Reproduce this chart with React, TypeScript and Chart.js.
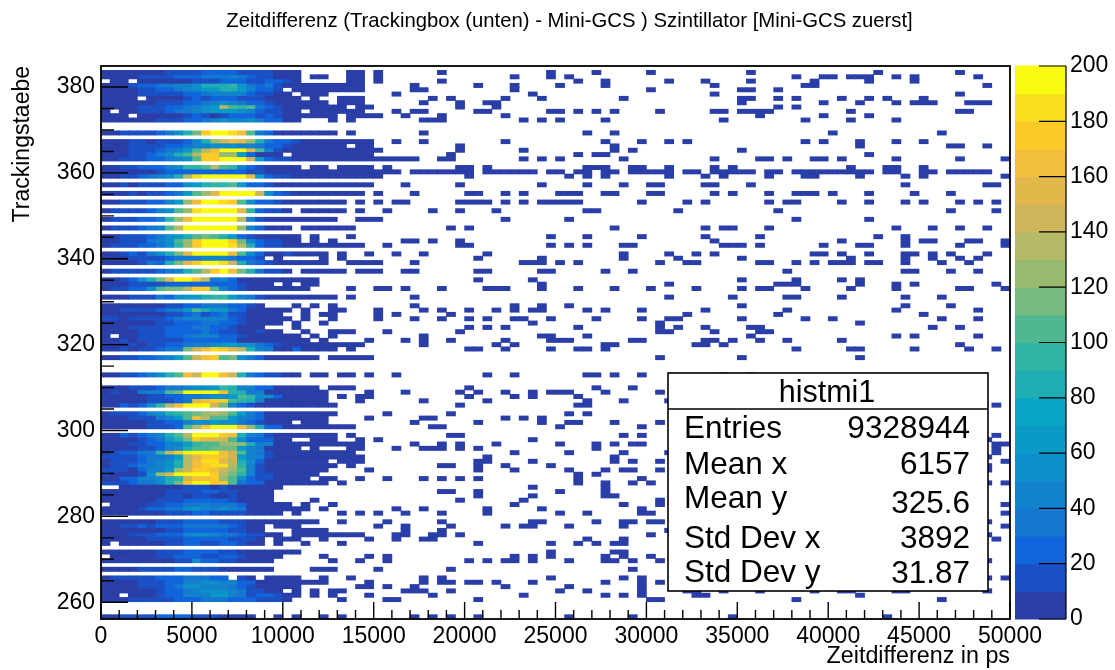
import React, { useEffect, useRef } from "react";
import { Chart, registerables } from "chart.js";

Chart.register(...registerables);

const titleText = "Zeitdifferenz (Trackingbox (unten) - Mini-GCS ) Szintillator [Mini-GCS zuerst]";
const xTitle = "Zeitdifferenz in ps";
const yTitle = "Trackingstaebe";
const xTicks = [0, 5000, 10000, 15000, 20000, 25000, 30000, 35000, 40000, 45000, 50000];
const yTicks = [260, 280, 300, 320, 340, 360, 380];
const zTicks = [0, 20, 40, 60, 80, 100, 120, 140, 160, 180, 200];
const statLabels = ["Entries", "Mean x", "Mean y", "Std Dev x", "Std Dev y"];
const statValues = ["9328944", "6157", "325.6", "3892", "31.87"];

const palette = ["#2a3ea8", "#1a50c4", "#1065dc", "#1478d0", "#1282cc", "#0f8ecc", "#0a9ac8", "#0aa5c4", "#20aeb2", "#30b5a5",
  "#50b890", "#75ba80", "#98bb70", "#b5ba68", "#cfb55a", "#e2b84a", "#f3bf3a", "#fdca28", "#f9de1c", "#f9fa10"];
const levelChars = "1234567x89abcdefghij";

const X_BIN = 500;
const Y_MIN = 256.1;
const Y_MAX = 384.9;
const ROWS = 128;

// one string per row from the top; each character is the colour band of a 500 ps bin
const leftCells = [
"", "1111111222233332222111.....11.1", "1111222233344454322111.11..11.1", ".11.111111222333223321.....11.1",
"11123344556888974342111111111", "11112233456778875332.11111111", "111122222334555532211.111.......1", "1111.11112323332221111.1..111",
"1111112223345654332111111.111", "1111222334567da9a4321111111.11", "1.1122234456777653221" + "1.111111", "111.11111232123332321" + "11111.1111",
"1111112223345655643311...1.1", "", "", "1122223468bhjjiga4311" + "11111.1", "",
"111221222358cegfc843321" + "1111111..1", "111222233455666554332111111.11", "1112223457adgjjjfa521" + "1111111111", "111223568adhhcc73111.111111111",
"1122233456ahhjjje7322" + "111111111111", "", "11223335699ada95321111.11.1111.1", "111111233333333322" + "111111111111111",
"112234568dijjjjjg7322" + "1111111111", "", "11212223367899a73321" + "1111111111", "", "1112122347acfjjjje632" + "11111111.1", "",
"112223357cgjjiha6332" + "1111111.1.1.1", "", "12222356acijjjjf93221.11111.1..1", "", "12223349cgjjjjjd521" + "1111111..111", "",
"1222345adjjjjjjc53111.111111", "", "1122234678aba873211111.1...1", "11222456achjjjhb532211.1.1", "122233469chjjjid8322" + "111111111..1", "",
"11232468bfjjjjga63112" + "1111.1..1..1", "111222234445554332.1....1.1", "11112438bfhjjie8432" + "111111..1111", "",
"1222223458adhjgb84221.11111.111", "", "112368bfjjhd453" + "111111111", "111222233333333" + "2111.1.11", "122336abbdhha532" + "1111111....1..11", "",
"111222436778997542" + "11111111.1", "", "1111111223344433" + "21...1.1.1", "1122223457a87743" + "11111.1..11...1", "1111111223423422" + "1111..1.11....1.1",
"2212222345555532" + "11111.1..1....1", "1111112233344332" + "1111.1..1", "111222233344332111...1", "11112223333432211211..1..111...1",
"1.11222334555332" + "111111.1.1", "112122222333333" + "11111111.1....1", "11121223345567766432" + "111111111", "112122344begihfd854" + "1131111.1", "",
"112233457aeghab643" + "111111.11111", "", "", "", "11223468agejjge84322" + "11.11.11.1..1", "", "", "1112223445667985533" + "11111.111",
"1211455abjjjjg9845" + "1111111....1", "11111223344566" + "7a9663" + "11111.1.11", "1111122234fghha985" + "1111111...1", "1132369dgjjjeb532" + "111111111", "",
"122235689abcdca743" + "11111111.....1", "111222457agdaa7543" + "1111111....1", "111112233566766432" + "111.111", "111112223adhjjjgc833" + "11111111", "",
"11323458adjjjhg8542" + "1111111.1", "111123478bhffea6333" + "11..111..1.1", "11122335579aaccc855" + "1111111111", "1111223568aabbb754" + "1111.1...11...1",
"1233449ehjjjjgea542" + "111111111", "222234457dfhhge7552" + "1111111111", "122234568dgiifd863" + "1111111.111", "122344568dghiid952" + "11111111.1",
"22213557cehhgeca52" + "1111111....1", "211126cfjjjjhdb9522" + "11111", "113355689egghca6322" + "1111.11..1..1", "22234468bhjjhha433" + "1111111.1",
"..1111111222" + "12111111", "1111111222233221111", "1111111221221121111", "11111122233333" + "21111....1", ".111122334454443" + "11111.1..1",
"1111233446755654" + "1111111.1.......1", "1111111222332222" + "1111.1....1.1.1", "", "1111112223333222" + "11111111..1....1",
"112232333444443211.111........1", "111111122333332211...1111", "11122233356654432211.11111111", "111112222333332221.111..1....1", "1.1111122332233211.1..1...1", "",
"111111222333322" + "1111111", ".1111122333223321111....1....1.1", "111111112263322" + "1111......1..1..1", "", "1111222233222" + "111111....111....1", "",
"12222233344433.21.1111..1..1", "11112223355665533" + "11111111....1", "11112223466555432" + "11111......11.1", "11111123345666542211.1.1.11",
"11.1112335557754233211.1.1...1", "111222223334443332221.....1....1", "", "", "", "11222233332221111..1.1..1.1",
];

// bins right of the dense core, all in the lowest colour band; key = row from the top
const sparseCells: Record<number, number[]> = {
1: [37,49,54,60,71,85,94], 2: [45,49,51,76,79,80,82,83,84,87,89,96], 3: [37,52,55,62,66,71,78,84,89],
4: [34,41,45,50,55,67,77,78,97], 5: [34,35,45,60,70,71,74], 6: [32,47,67,94], 7: [36,38,44,48,57,70,71,74,76,81,84,86,90],
8: [35,39,42,43,70,79,83,87,89,90,91,95,96,97], 9: [39,43,74,76], 10: [32,34,35,41,42,49,50,52,54,56,61,67,68,70,71,72,73,82,94,95],
11: [33,37,44,72,79,84], 12: [35,36,37,46,48,50,55,68,77,82,87], 15: [35,53,56,80,92], 17: [32,35,44,55,59,62,64,77,79,83,87,90],
18: [39,56,83,93,94,97], 19: [39,46,56,58,70], 20: [38,52,54,55,84], 21: [31,32,33,34,37,38,46,48,50,57,67,72,73,75,78,79,81,87,94,99],
23: [31,39,40,42,53,54,55,58,59,62,67,69,82,86,87,90],
24: [32,34,35,36,37,38,39,40,42,43,44,45,46,47,49,50,52,53,55,56,58,59,60,61,62,64,65,67,68,69,70,71,73,74,76,77,78,79,80,81,82,83,84,86,87,90,91,93,94,95,96,97],
25: [40,51,53,55,62,66,68,73,77,78,83,88,90,99], 27: [33,39,48,53,57,60,61,66,67,71,88,97,98],
29: [34,40,41,44,46,50,51,52,55,56,60,61,67,69,73,76,77,78,80,84,89,93],
31: [32,33,39,40,41,42,44,46,48,49,50,51,52,59,64,66,73,75,76,81,84,88,90,94,96,98], 33: [31,36,39,43,53,54,63,74,93,98], 35: [44,51,76,84],
37: [38,40,56,66,68,69,73,87,91,94,97], 39: [49,53,59,66,72,85,88], 40: [33,34,36,39,67,81,88,90,91,95,96,99],
41: [31,39,40,49,51,53,57,58,68,69,70,72,79,83,84,88,94,99], 43: [32,35,42,57,62,65,67,78,79,81,84,88,89,91,93,97],
44: [41,48,57,63,70,82,88,91,94,96], 45: [34,46,47,48,50,52,61,64,65,72,73,76,78,80,81,82,84,85,88,92,95],
47: [33,34,41,42,48,49,55,58,75,88,89,93,96], 49: [41,47,70,76,81,83], 50: [48,62,74,75,76,83,87,89,98],
51: [31,33,37,42,43,44,48,52,56,60,65,70,72,73,77,82,87,94,95,99], 53: [34,62,69,75,76,81,88,92], 55: [34,45,48,51,70,88,93],
56: [35,37,40,43,45,47,48,53,55,59,66,75,87,96], 57: [32,38,64,74,90], 58: [34,37,40,42,45,46,49,54,59,62,63,70,77,80,92,96],
59: [47,61,83], 60: [40,42,44,52,61,63,66,71,72,91,94], 61: [31,39,61,62,67,72,73], 62: [35,48,49,53,71,87,89,96],
63: [33,35,38,44,49,50,51,58,59,66,67,69,72,75,81], 64: [35,43,45,55,56,65,66,68,94], 65: [40,41,44,49,52,53,55,76,82,83,89,95,98],
67: [61,70,83], 71: [32,42,45,53,54,56,59,68,71], 74: [40,54,58], 75: [33,39,41,44,47,49,50,51,55,61], 76: [40,45,47,52],
77: [35,42,53,57,62], 78: [39,52,53,98], 80: [31,38,51,53], 81: [35,36,44,46,48], 82: [34,41,48,51,52,56,61], 83: [36,37,50,59],
85: [38,39,57,59,98], 86: [47,97], 87: [34,37,39,43,50,54,56,58,59,98,99], 88: [32,35,36,37,39,41,54,98], 89: [45,51,57,62,98],
90: [42,56,97], 91: [41,42,47,56,58,61,99], 92: [37,38,41,44,49,97], 93: [41,45,51,55,57,58,61,97], 94: [52,54],
95: [31,35,37,39,41,52,59], 96: [52,55,58,60,97,99], 97: [47,55], 98: [37,38,41,50,55], 99: [41,47,55,56], 100: [39,46,61],
101: [45,57,61,99], 102: [32,35,42,48,59], 103: [33,37,42,50,53,59,60,99], 105: [31,37,47,48,54,57,58,60,61,97],
106: [33,38,44,46,47,51,57,99], 107: [33,37,62], 108: [32,33,36,37,39,60,97], 109: [32,35,36,53,57,98], 110: [41,49,52,54,56,57],
112: [49,56,57], 113: [31,45,47,49,55,57,60], 114: [31,40,42,44,45,47,51,55,56,58,61,97], 116: [38,58], 118: [35,37,49,57,59,97,99],
119: [35,37,38,40,41,43,47,55,59,61], 120: [34,44,51,59], 121: [33,34,35,38,50,53,59,64,65,68,72,78,81,82,87,88,97],
122: [36,46,55,57,59,65,66,83], 123: [31,32,41,60,61,76,92], 127: [34,36,38,41,51,58,69,86],
};

function buildDatasets() {
  const groups: { x: number[]; y: number }[][] = palette.map(() => []);
  const rowY = (r: number) => Y_MAX - ((r + 0.5) * (Y_MAX - Y_MIN)) / ROWS;
  leftCells.forEach((row, r) => {
    const seen = new Set<number>();
    [...row].forEach((ch, c) => {
      const band = levelChars.indexOf(ch);
      if (band < 0) return;
      seen.add(c);
      groups[band].push({ x: [c * X_BIN, (c + 1) * X_BIN], y: rowY(r) });
    });
    (sparseCells[r] || []).forEach((c) => {
      if (!seen.has(c)) groups[0].push({ x: [c * X_BIN, (c + 1) * X_BIN], y: rowY(r) });
    });
  });
  return groups.map((data, i) => ({
    label: `${i * 10}-${(i + 1) * 10}`,
    data,
    backgroundColor: palette[i],
    borderWidth: 0,
    barThickness: 4.32,
    grouped: false,
  }));
}

const FONT = '"Liberation Sans", Arial, sans-serif';

const noPadding = (s: any) => {
  s.paddingTop = 0;
  s.paddingBottom = 0;
  s.paddingLeft = 0;
  s.paddingRight = 0;
};

const frame = {
  id: "rootFrame",
  afterDraw(chart: any) {
    const { ctx, chartArea: a, scales } = chart;
    const { x, y, z } = scales;
    ctx.save();
    ctx.strokeStyle = "#000";
    // colour bar
    const barLeft = a.right + 5;
    const barRight = a.right + 56;
    palette.forEach((c, i) => {
      const top = z.getPixelForValue((i + 1) * 10);
      const bot = z.getPixelForValue(i * 10);
      ctx.fillStyle = c;
      ctx.fillRect(barLeft, top - 0.5, barRight - barLeft, bot - top + 1);
    });
    ctx.lineWidth = 1.2;
    ctx.beginPath();
    ctx.moveTo(barRight, a.top);
    ctx.lineTo(barRight, a.bottom);
    zTicks.forEach((t) => {
      const p = z.getPixelForValue(t);
      ctx.moveTo(barRight - 27, p);
      ctx.lineTo(barRight, p);
    });
    ctx.stroke();
    // inward axis ticks
    ctx.lineWidth = 1.4;
    ctx.beginPath();
    for (let v = 0; v <= 50000; v += 1000) {
      const p = x.getPixelForValue(v);
      ctx.moveTo(p, a.bottom);
      ctx.lineTo(p, a.bottom - (v % 5000 === 0 ? 17 : 9));
    }
    for (let v = 260; v <= 384; v += 5) {
      const p = y.getPixelForValue(v);
      ctx.moveTo(a.left, p);
      ctx.lineTo(a.left + (v % 20 === 0 ? 27 : 13), p);
    }
    ctx.stroke();
    ctx.lineWidth = 1.8;
    ctx.strokeRect(a.left, a.top, a.right - a.left, a.bottom - a.top);
    // title
    ctx.fillStyle = "#000";
    ctx.font = `20.3px ${FONT}`;
    ctx.textAlign = "center";
    ctx.textBaseline = "alphabetic";
    ctx.fillText(titleText, 569.5, 27);
    // statistics box
    const L = 668, T = 373, R = 988, B = 591;
    ctx.fillStyle = "#fff";
    ctx.fillRect(L, T, R - L, B - T);
    ctx.lineWidth = 1.6;
    ctx.strokeRect(L, T, R - L, B - T);
    ctx.beginPath();
    ctx.moveTo(L, 409);
    ctx.lineTo(R, 409);
    ctx.stroke();
    ctx.fillStyle = "#000";
    ctx.font = `30.5px ${FONT}`;
    ctx.textAlign = "center";
    ctx.fillText("histmi1", 827, 402);
    const labelY = [438, 474, 508, 548, 582];
    const valueY = [438, 474, 513, 548, 583];
    ctx.font = `31.5px ${FONT}`;
    statLabels.forEach((s, i) => {
      ctx.textAlign = "left";
      ctx.fillText(s, 684, labelY[i]);
      ctx.textAlign = "right";
      ctx.fillText(statValues[i], 970, valueY[i]);
    });
    ctx.restore();
  },
};

export default function App() {
  const ref = useRef<HTMLCanvasElement>(null);
  useEffect(() => {
    const tickFont = { family: FONT, size: 23 };
    const chart = new Chart(ref.current as HTMLCanvasElement, {
      type: "bar",
      data: { datasets: buildDatasets() as any },
      options: {
        indexAxis: "y",
        responsive: false,
        animation: false,
        layout: { padding: { top: 66, left: 0, right: 0, bottom: 0 } },
        plugins: { legend: { display: false }, tooltip: { enabled: false }, title: { display: false } },
        scales: {
          x: {
            type: "linear", min: 0, max: 50000,
            grid: { display: false, drawTicks: false }, border: { display: false },
            afterBuildTicks: (s: any) => { s.ticks = xTicks.map((value) => ({ value })); },
            afterFit: (s: any) => { s.height = 51; noPadding(s); },
            ticks: { color: "#000", font: tickFont, padding: 4, maxRotation: 0, autoSkip: false, callback: (v: any) => String(v) },
            title: { display: true, text: xTitle, align: "end", color: "#000", font: { family: FONT, size: 23.3, lineHeight: 1 }, padding: { top: 2, bottom: 2 } },
          },
          y: {
            type: "linear", min: Y_MIN, max: Y_MAX, offset: false,
            grid: { display: false, drawTicks: false, offset: false }, border: { display: false },
            afterBuildTicks: (s: any) => { s.ticks = yTicks.map((value) => ({ value })); },
            afterFit: (s: any) => { s.width = 101; noPadding(s); },
            ticks: { color: "#000", font: tickFont, padding: 6, autoSkip: false, callback: (v: any) => String(v) },
            title: { display: true, text: yTitle, align: "end", color: "#000", font: { family: FONT, size: 23, lineHeight: 1 }, padding: { top: 11, bottom: 11 } },
          },
          z: {
            axis: "y", type: "linear", position: "right", min: 0, max: 200, offset: false,
            grid: { display: false, drawTicks: false, offset: false }, border: { display: false },
            afterBuildTicks: (s: any) => { s.ticks = zTicks.map((value) => ({ value })); },
            afterFit: (s: any) => { s.width = 105; noPadding(s); },
            ticks: { color: "#000", font: tickFont, padding: 60, autoSkip: false, callback: (v: any) => String(v) },
          },
        },
      } as any,
      plugins: [frame],
    });
    return () => chart.destroy();
  }, []);
  return (
    <div style={{ position: "absolute", left: 0, top: 0, width: 1115, height: 670, background: "#fff" }}>
      <canvas ref={ref} width={1115} height={670} style={{ display: "block" }} />
    </div>
  );
}
